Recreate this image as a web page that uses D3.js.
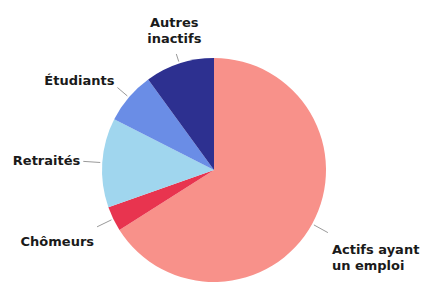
<!DOCTYPE html>
<html>
<head>
<meta charset="utf-8">
<script src="https://cdn.jsdelivr.net/npm/d3@7"></script>
<style>
  body { margin: 0; background: #fff; }
  text { font-family: "DejaVu Sans", Verdana, sans-serif; font-weight: bold; font-size: 13px; fill: #1a1a1a; }
</style>
</head>
<body>
<div id="chart"></div>
<script>
// slices, clockwise from 12 o'clock (percent)
var categories = ["Actifs ayant un emploi", "Chômeurs", "Retraités", "Étudiants", "Autres inactifs"];
var values     = [66, 3.6, 12.9, 7.5, 10];
var labelLines = [["Actifs ayant", "un emploi"], ["Chômeurs"], ["Retraités"], ["Étudiants"], ["Autres", "inactifs"]];
var colors     = ["#f8918a", "#e8344f", "#a0d6ee", "#6a8de6", "#2d3090"];

// layout
var w = 422, h = 284,
    cx = 214, cy = 170,
    r = 112;

// where each label sits relative to its leader line end
var labelPos = [
  {dx: 4, dy: 21, anchor: "start"},
  {dx: -3, dy: 19, anchor: "end"},
  {dx: -3, dy: 4, anchor: "end"},
  {dx: -3, dy: -3, anchor: "end"},
  {dx: -2, dy: -27, anchor: "middle"}
];
var lineOut = [r + 18, r + 18, r + 19, r + 15, r + 10];

var svg = d3.select("#chart").append("svg")
  .attr("width", w)
  .attr("height", h);

var pie = d3.pie().sort(null).value(function(d) { return d; });
var arcs = pie(values);

var arc = d3.arc().innerRadius(0).outerRadius(r);

var g = svg.append("g").attr("transform", "translate(" + cx + "," + cy + ")");

g.selectAll("path.slice")
  .data(arcs)
  .enter().append("path")
  .attr("class", "slice")
  .attr("d", arc)
  .attr("fill", function(d, i) { return colors[i]; });

function pt(a, rad) { return [Math.sin(a) * rad, -Math.cos(a) * rad]; }

// leader lines
g.selectAll("line.lead")
  .data(arcs)
  .enter().append("line")
  .attr("class", "lead")
  .attr("x1", function(d) { return pt((d.startAngle + d.endAngle) / 2, r + 2)[0]; })
  .attr("y1", function(d) { return pt((d.startAngle + d.endAngle) / 2, r + 2)[1]; })
  .attr("x2", function(d, i) { return pt((d.startAngle + d.endAngle) / 2, lineOut[i])[0]; })
  .attr("y2", function(d, i) { return pt((d.startAngle + d.endAngle) / 2, lineOut[i])[1]; })
  .attr("stroke", "#9a9a9a")
  .attr("stroke-width", 1);

// labels
var lab = g.selectAll("text.lab")
  .data(arcs)
  .enter().append("text")
  .attr("class", "lab")
  .attr("text-anchor", function(d, i) { return labelPos[i].anchor; })
  .attr("transform", function(d, i) {
    var p = pt((d.startAngle + d.endAngle) / 2, lineOut[i]);
    return "translate(" + (p[0] + labelPos[i].dx) + "," + (p[1] + labelPos[i].dy) + ")";
  });

lab.selectAll("tspan")
  .data(function(d, i) { return labelLines[i]; })
  .enter().append("tspan")
  .attr("x", 0)
  .attr("dy", function(d, j) { return j == 0 ? 0 : 16; })
  .text(function(d) { return d; });
</script>
</body>
</html>
